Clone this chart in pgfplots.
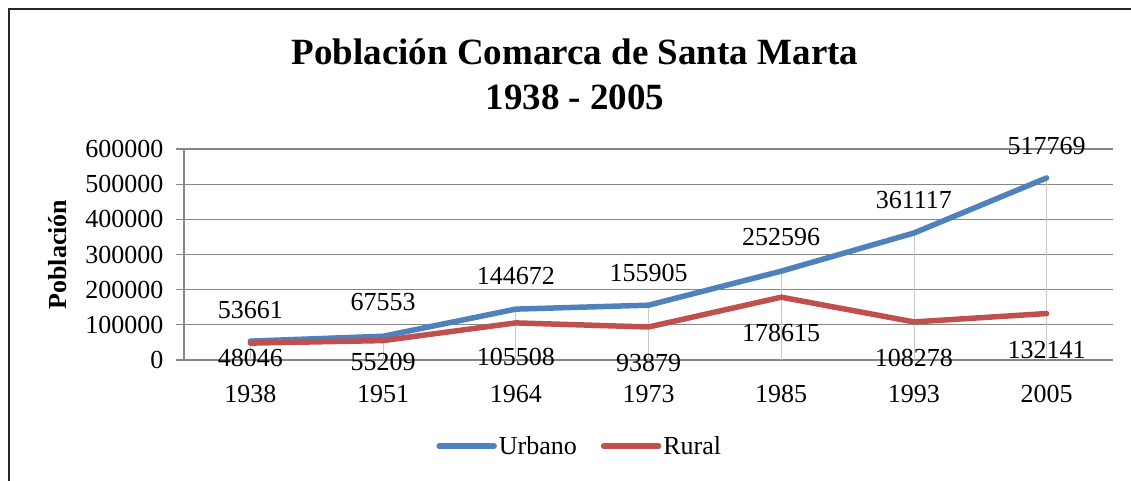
\documentclass[border=0pt]{standalone}
\usepackage{fontspec}
\setmainfont{Liberation Serif}
\usepackage{pgfplots}
\usepackage{pgfplotstable}
\pgfplotsset{compat=1.18}
\definecolor{urb}{HTML}{4F81BD}
\definecolor{rur}{HTML}{C0504D}
\definecolor{gridc}{HTML}{868686}
\definecolor{dropc}{HTML}{C8C8C8}
\pgfplotstableread{
x y dy lab
0 53661 31 53661
1 67553 34 67553
2 144672 33 144672
3 155905 32 155905
4 252596 34 252596
5 361117 33 361117
6 517769 32 517769
}\urbano
\pgfplotstableread{
x y dy lab
0 48046 -15 48046
1 55209 -21 55209
2 105508 -34 105508
3 93879 -36 93879
4 178615 -36 178615
5 108278 -36 108278
6 132141 -36 132141
}\rural
\begin{document}
\begin{tikzpicture}
\useasboundingbox (0pt,0pt) rectangle (1131pt,-481pt);
\draw[line width=1.4pt, black!85] (9pt,-481pt) -- (9pt,-9pt) -- (1131pt,-9pt);
\node[font=\fontsize{37}{45}\selectfont\bfseries, align=center] at (575pt,-74.5pt) {Población Comarca de Santa Marta\\1938 - 2005};
\begin{axis}[
  at={(184pt,-360pt)}, anchor=south west,
  scale only axis, width=929pt, height=211pt,
  xmin=-0.5, xmax=6.5, ymin=0, ymax=600000,
  xtick={0,...,6}, xticklabels={1938,1951,1964,1973,1985,1993,2005},
  ytick={0,100000,...,600000},
  scaled y ticks=false,
  /pgf/number format/.cd, fixed, precision=0, 1000 sep={}, assume math mode=true,
  /pgfplots/.cd,
  axis x line*=bottom, axis y line*=left,
  axis line style={gridc, line width=1.2pt, -},
  ymajorgrids, grid style={gridc, line width=1.2pt},
  tick align=outside, major tick length=8pt,
  ytick style={gridc, line width=1.2pt},
  xtick style={draw=none},
  tick label style={font=\fontsize{26}{30}\selectfont},
  yticklabel style={xshift=-9pt},
  xticklabel style={yshift=-14pt},
  ylabel={\bfseries Población},
  ylabel style={font=\fontsize{26}{30}\selectfont, at={(rel axis cs:0,0.5)}, anchor=center, yshift=126pt},
  clip=false,
  legend style={at={(0.426,-0.408)}, anchor=center, draw=none, fill=none,
    font=\fontsize{26}{30}\selectfont, legend columns=2,
    /tikz/every even column/.append style={column sep=22pt}},
  legend image code/.code={\draw[#1, line cap=round] (0pt,0pt) -- (55pt,0pt);},
  nodes near coords style={font=\fontsize{26}{30}\selectfont, text=black, anchor=center, yshift=\dy pt},
]
\addplot[ycomb, dropc, line width=0.8pt, forget plot] table[x=x, y=y] {\urbano};
\addplot[urb, line width=5.5pt, line join=round, line cap=round,
  point meta=explicit symbolic, nodes near coords,
  visualization depends on={\thisrow{dy} \as \dy}] table[x=x, y=y, meta=lab] {\urbano};
\addlegendentry{Urbano}
\addplot[rur, line width=5.5pt, line join=round, line cap=round,
  point meta=explicit symbolic, nodes near coords,
  visualization depends on={\thisrow{dy} \as \dy}] table[x=x, y=y, meta=lab] {\rural};
\addlegendentry{Rural}
\end{axis}
\end{tikzpicture}
\end{document}
